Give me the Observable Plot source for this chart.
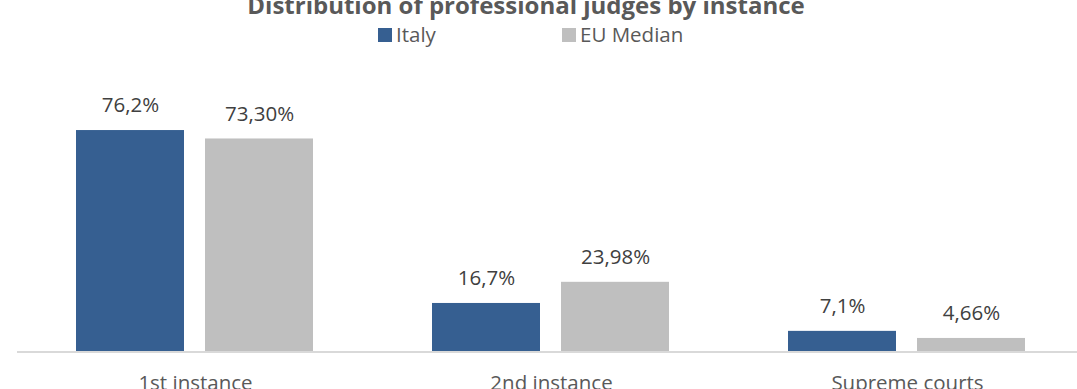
<!DOCTYPE html>
<html>
<head>
<meta charset="utf-8">
<script src="https://cdn.jsdelivr.net/npm/d3@7"></script>
<script src="https://cdn.jsdelivr.net/npm/@observablehq/plot@0.6"></script>
<style>
  html, body { margin: 0; padding: 0; background: #fff; overflow: hidden; width: 1077px; height: 389px; }
  #wrap { position: relative; width: 1077px; }
  #header { position: relative; height: 50px; font-family: "Open Sans", sans-serif; color: #595959; }
  #title { position: absolute; left: 0; width: 1052px; top: -7px; text-align: center; font-weight: bold; font-size: 24px; line-height: 24px; white-space: nowrap; }
  .leg { position: absolute; top: 24px; font-size: 20.5px; line-height: 20.5px; white-space: nowrap; }
  .sw { position: absolute; top: 4px; width: 14px; height: 14px; }
  .leg span.t { position: absolute; left: 18px; top: 0; }
  #chart svg { display: block; max-width: none !important; }
</style>
</head>
<body>
<div id="wrap">
  <div id="header">
    <div id="title">Distribution of professional judges by instance</div>
  </div>
  <div id="chart"></div>
</div>
<script>
const categories = ["1st instance", "2nd instance", "Supreme courts"];
const seriesNames = ["Italy", "EU Median"];
const italy = [76.2, 16.7, 7.1];
const euMedian = [73.30, 23.98, 4.66];
const italyLabels = ["76,2%", "16,7%", "7,1%"];
const euLabels = ["73,30%", "23,98%", "4,66%"];
const colors = ["#365F91", "#BFBFBF"];

const data = [];
categories.forEach((c, i) => {
  data.push({category: c, series: seriesNames[0], value: italy[i], label: italyLabels[i]});
  data.push({category: c, series: seriesNames[1], value: euMedian[i], label: euLabels[i]});
});

// legend
const header = document.getElementById("header");
const legendX = [378, 562];
seriesNames.forEach((s, i) => {
  const d = document.createElement("div");
  d.className = "leg";
  d.style.left = legendX[i] + "px";
  const sw = document.createElement("div");
  sw.className = "sw";
  sw.style.background = colors[i];
  const t = document.createElement("span");
  t.className = "t";
  t.textContent = s;
  d.appendChild(sw);
  d.appendChild(t);
  header.appendChild(d);
});

const chart = Plot.plot({
  width: 1086,
  height: 360,
  marginLeft: 16,
  marginRight: 0,
  marginTop: 69,
  marginBottom: 58.5,
  style: {fontFamily: "Open Sans, sans-serif", fontSize: "20.5px", color: "#595959", background: "transparent", maxWidth: "none"},
  fx: {domain: categories, padding: 0, label: null, axis: "bottom", tickSize: 0, tickPadding: 23.5},
  x: {domain: seriesNames, paddingInner: 0.1615, paddingOuter: 0.452, axis: null},
  y: {domain: [0, 80], axis: null},
  color: {domain: seriesNames, range: colors},
  marks: [
    Plot.barY(data, {fx: "category", x: "series", y: "value", fill: "series"}),
    Plot.ruleY([0], {stroke: "#D9D9D9", strokeWidth: 2}),
    Plot.text(data, {fx: "category", x: "series", y: "value", text: "label", dy: -25, fill: "#404040", fontSize: 20.5})
  ]
});
document.getElementById("chart").appendChild(chart);
</script>
</body>
</html>
